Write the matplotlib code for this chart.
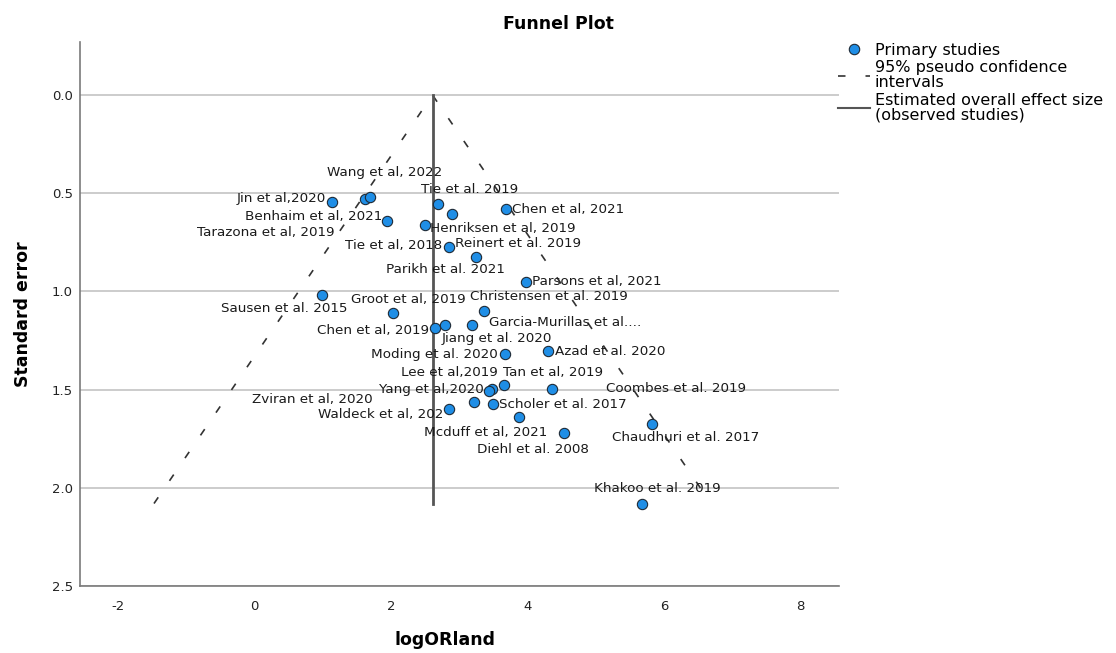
import matplotlib
matplotlib.use('Agg')
import matplotlib.pyplot as plt
from matplotlib.lines import Line2D

plt.rcParams['font.family'] = 'DejaVu Sans'
plt.rcParams['axes.unicode_minus'] = False

# study data
study_labels = ['Jin et al,2020', 'Tarazona et al, 2019', 'Wang et al, 2022', 'Benhaim et al, 2021',
                'Henriksen et al, 2019', 'Tie et al. 2019', 'Tie et al, 2018', 'Chen et al, 2021',
                'Reinert et al. 2019', 'Parikh et al. 2021', 'Parsons et al, 2021', 'Sausen et al. 2015',
                'Groot et al, 2019', 'Chen et al, 2019', 'Jiang et al. 2020', 'Garcia-Murillas et al....',
                'Christensen et al. 2019', 'Azad et al. 2020', 'Moding et al. 2020', 'Tan et al, 2019',
                'Lee et al,2019', 'Yang et al,2020', 'Coombes et al. 2019', 'Zviran et al, 2020',
                'Scholer et al. 2017', 'Waldeck et al, 202', 'Mcduff et al, 2021', 'Diehl et al. 2008',
                'Chaudhuri et al. 2017', 'Khakoo et al. 2019']
log_or = [1.14, 1.615, 1.70, 1.95, 2.50, 2.69, 2.89, 3.685, 2.855, 3.25, 3.98, 0.99, 2.03, 2.65, 2.79,
          3.19, 3.36, 4.30, 3.675, 3.655, 3.48, 3.43, 4.36, 3.22, 3.50, 2.845, 3.88, 4.54, 5.83, 5.67]
std_err = [0.543, 0.531, 0.518, 0.642, 0.662, 0.555, 0.606, 0.582, 0.772, 0.823, 0.95, 1.02, 1.112, 1.188,
           1.171, 1.173, 1.098, 1.303, 1.32, 1.477, 1.499, 1.507, 1.499, 1.565, 1.572, 1.60, 1.641, 1.723,
           1.673, 2.08]
overall_effect = 2.61

# label placement (pixel offsets from each point, y pointing down as in the picture)
label_dx = [-50.6, -99, 14.7, -74, 78.3, 32, -58, 62.1, 69.3, -31.2, 71, -37.5, 15.3, -62, 51.9, 93.3,
            65.3, 62.3, -70.8, 49.6, -42.2, -57.1, 123.8, -162.3, 69.9, -67.5, -33.2, -31.8, 33, 15.7]
label_dy = [-3.4, 33, -24.4, -4.3, 3.3, -14.7, 31.7, 0, -2.7, 13.3, 0, 13.6, -14.3, 1.7, 13.3, -2.6,
            -14, 0.7, 0.7, -12.3, -16.6, -1.7, -1, -3.3, 0.3, 5.7, 15, 16, 13.6, -15.3]

dot_color = '#1f8ee6'
dot_edge = '#1e2a36'
dash_color = '#333333'
line_color = '#555555'

fig = plt.figure(figsize=(11.16, 6.53), dpi=100)
ax = fig.add_axes([80 / 1116, 67 / 653, 759 / 1116, 544 / 653])

se_max = max(std_err)
ax.plot([overall_effect - 1.96 * se_max, overall_effect, overall_effect + 1.96 * se_max],
        [se_max, 0, se_max], color=dash_color, lw=1.2, dashes=(4.5, 12), zorder=2)
ax.plot([overall_effect, overall_effect], [0, se_max], color=line_color, lw=2, zorder=2)

ax.scatter(log_or, std_err, s=55, color=dot_color, edgecolor=dot_edge, linewidth=0.8, zorder=4)

for x, y, lab, dx, dy in zip(log_or, std_err, study_labels, label_dx, label_dy):
    ax.annotate(lab, (x, y), xytext=(dx, -dy), textcoords='offset pixels',
                ha='center', va='center', fontsize=9.7, color='#1a1a1a', zorder=3)

ax.set_xlim(-2.55, 8.56)
ax.set_ylim(2.5, -0.27)
ax.set_xticks([-2, 0, 2, 4, 6, 8])
ax.set_yticks([0, 0.5, 1.0, 1.5, 2.0, 2.5])
ax.set_yticklabels(['0.0', '0.5', '1.0', '1.5', '2.0', '2.5'])
ax.tick_params(length=0, labelsize=9.5, labelcolor='#222222')
ax.tick_params(axis='x', pad=10)
ax.tick_params(axis='y', pad=5)
ax.yaxis.grid(True, color='#c8c8c8', lw=1.3)
ax.set_axisbelow(True)
for side in ['top', 'right']:
    ax.spines[side].set_visible(False)
for side in ['left', 'bottom']:
    ax.spines[side].set_color('#7a7a7a')
    ax.spines[side].set_linewidth(1.2)

fig.text(0.5, 1 - 24 / 653, 'Funnel Plot', ha='center', va='center', fontsize=12.5, fontweight='bold')
fig.text(445 / 1116, 1 - 640 / 653, 'logORland', ha='center', va='center', fontsize=12.5, fontweight='bold')
fig.text(23 / 1116, 1 - 314 / 653, 'Standard error', ha='center', va='center', rotation=90,
         fontsize=12.5, fontweight='bold')

handles = [
    Line2D([], [], ls='none', marker='o', ms=7.5, mfc=dot_color, mec=dot_edge, mew=0.8),
    Line2D([], [], color=dash_color, lw=1.2, dashes=(4.5, 12)),
    Line2D([], [], color=line_color, lw=1.5),
]
leg = fig.legend(handles, ['Primary studies', '95% pseudo confidence\nintervals',
                           'Estimated overall effect size\n(observed studies)'],
                 loc='upper left', bbox_to_anchor=(838 / 1116, 1 - 43 / 653), frameon=False,
                 fontsize=11.5, handlelength=2.0, handletextpad=0.3, labelspacing=0.15,
                 borderpad=0, borderaxespad=0)
for t in leg.get_texts():
    t.set_linespacing(1.0)

fig.savefig('out.png', dpi=100)
